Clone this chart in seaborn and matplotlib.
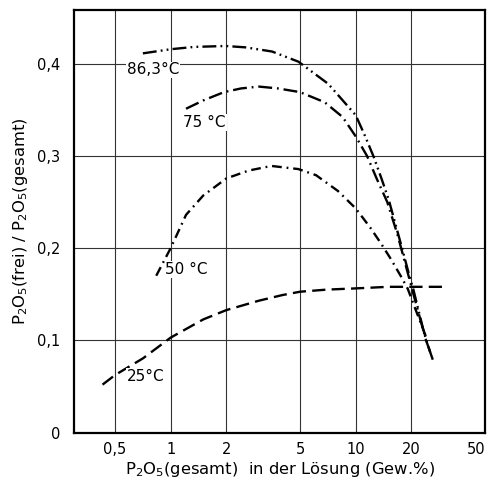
import matplotlib
matplotlib.use("Agg")
import matplotlib.pyplot as plt
import seaborn as sns
import pandas as pd
from matplotlib.ticker import FixedLocator, FixedFormatter, NullLocator

# ---- data ----
x_25 = [0.428, 0.5, 0.708, 1.0, 1.5, 2.0, 3.0, 4.0, 5.0, 7.0, 10.0, 15.0, 20.0, 30.3]
y_25 = [0.052, 0.0624, 0.0805, 0.103, 0.1227, 0.1328, 0.143, 0.149, 0.1527, 0.155, 0.1563, 0.158, 0.158, 0.158]

x_50 = [0.835, 1.0, 1.21, 1.5, 2.0, 2.64, 3.5, 4.9, 6.1, 8.0, 10.0, 12.0, 13.7, 15.5, 17.6, 19.1, 21.1, 24.4]
y_50 = [0.170, 0.200, 0.236, 0.257, 0.2755, 0.284, 0.289, 0.2856, 0.279, 0.262, 0.243, 0.222, 0.205, 0.188, 0.169, 0.156, 0.133, 0.100]

x_75 = [1.21, 1.5, 1.94, 2.4, 3.0, 3.8, 5.0, 6.8, 8.5, 10.0, 11.5, 13.0, 14.8, 16.8, 19.0, 21.5, 24.0, 25.5]
y_75 = [0.351, 0.360, 0.369, 0.373, 0.375, 0.373, 0.369, 0.358, 0.342, 0.321, 0.300, 0.275, 0.250, 0.215, 0.175, 0.135, 0.100, 0.085]

x_86 = [0.707, 1.0, 1.34, 1.98, 2.54, 3.53, 4.9, 7.1, 10.0, 11.2, 12.5, 13.8, 15.1, 16.6, 17.8, 19.2, 20.5, 22.0, 23.5, 25.0, 26.5]
y_86 = [0.411, 0.4155, 0.418, 0.419, 0.4175, 0.413, 0.402, 0.378, 0.344, 0.322, 0.299, 0.275, 0.252, 0.222, 0.200, 0.175, 0.155, 0.130, 0.107, 0.090, 0.075]

curve_labels = ["86,3°C", "75 °C", "50 °C", "25°C"]
label_x = [0.578, 1.17, 0.937, 0.576]
label_y = [0.393, 0.336, 0.177, 0.0606]

x_ticks = [0.5, 1, 2, 5, 10, 20, 50]
x_ticklabels = ["0,5", "1", "2", "5", "10", "20", "50"]
y_ticks = [0, 0.1, 0.2, 0.3, 0.4]
y_ticklabels = ["0", "0,1", "0,2", "0,3", "0,4"]

# ---- styling ----
sns.set_theme(style="white")
plt.rcParams["font.family"] = ["DejaVu Sans"]
plt.rcParams["lines.scale_dashes"] = False
plt.rcParams["mathtext.default"] = "regular"

fig = plt.figure(figsize=(4.88, 4.83), dpi=100)
ax = fig.add_axes([0.1516, 0.1043, 0.9939 - 0.1516, 0.9793 - 0.1043])

styles = [
    (x_86, y_86, (0, (10, 3, 1.3, 3, 1.3, 3))),
    (x_75, y_75, (0, (10, 3.5, 1.3, 3.5))),
    (x_50, y_50, (0, (7, 3.5, 1.3, 3.5))),
    (x_25, y_25, (0, (9.5, 4.5))),
]
for xs, ys, ls in styles:
    df = pd.DataFrame({"x": xs, "y": ys})
    sns.lineplot(data=df, x="x", y="y", ax=ax, color="black", linewidth=1.7,
                 linestyle=ls, estimator=None, sort=False, legend=False)

ax.set_xscale("log")
ax.set_xlim(0.3, 50)
ax.set_ylim(0, 0.458)

ax.xaxis.set_major_locator(FixedLocator(x_ticks))
ax.xaxis.set_major_formatter(FixedFormatter(x_ticklabels))
ax.xaxis.set_minor_locator(NullLocator())
ax.yaxis.set_major_locator(FixedLocator(y_ticks))
ax.yaxis.set_major_formatter(FixedFormatter(y_ticklabels))

ax.grid(True, color="#333333", linewidth=0.8)
ax.tick_params(axis="both", length=0, labelsize=10.5, colors="black")
ax.tick_params(axis="y", pad=10)
ax.tick_params(axis="x", pad=7)
for s in ax.spines.values():
    s.set_color("black")
    s.set_linewidth(1.6)

fig.canvas.draw()
xtl = ax.get_xticklabels()
xtl[-1].set_horizontalalignment("right")

for t, lx, ly in zip(curve_labels, label_x, label_y):
    ax.text(lx, ly, t, ha="left", va="center", fontsize=11, color="black",
            bbox=dict(facecolor="white", edgecolor="none", pad=0.5))

ax.set_xlabel("P$_2$O$_5$(gesamt)  in der Lösung (Gew.%)", fontsize=11.8, color="black", labelpad=2)
ax.set_ylabel("P$_2$O$_5$(frei) / P$_2$O$_5$(gesamt)", fontsize=11.8, color="black", labelpad=5)

fig.savefig("out.png", dpi=100)
